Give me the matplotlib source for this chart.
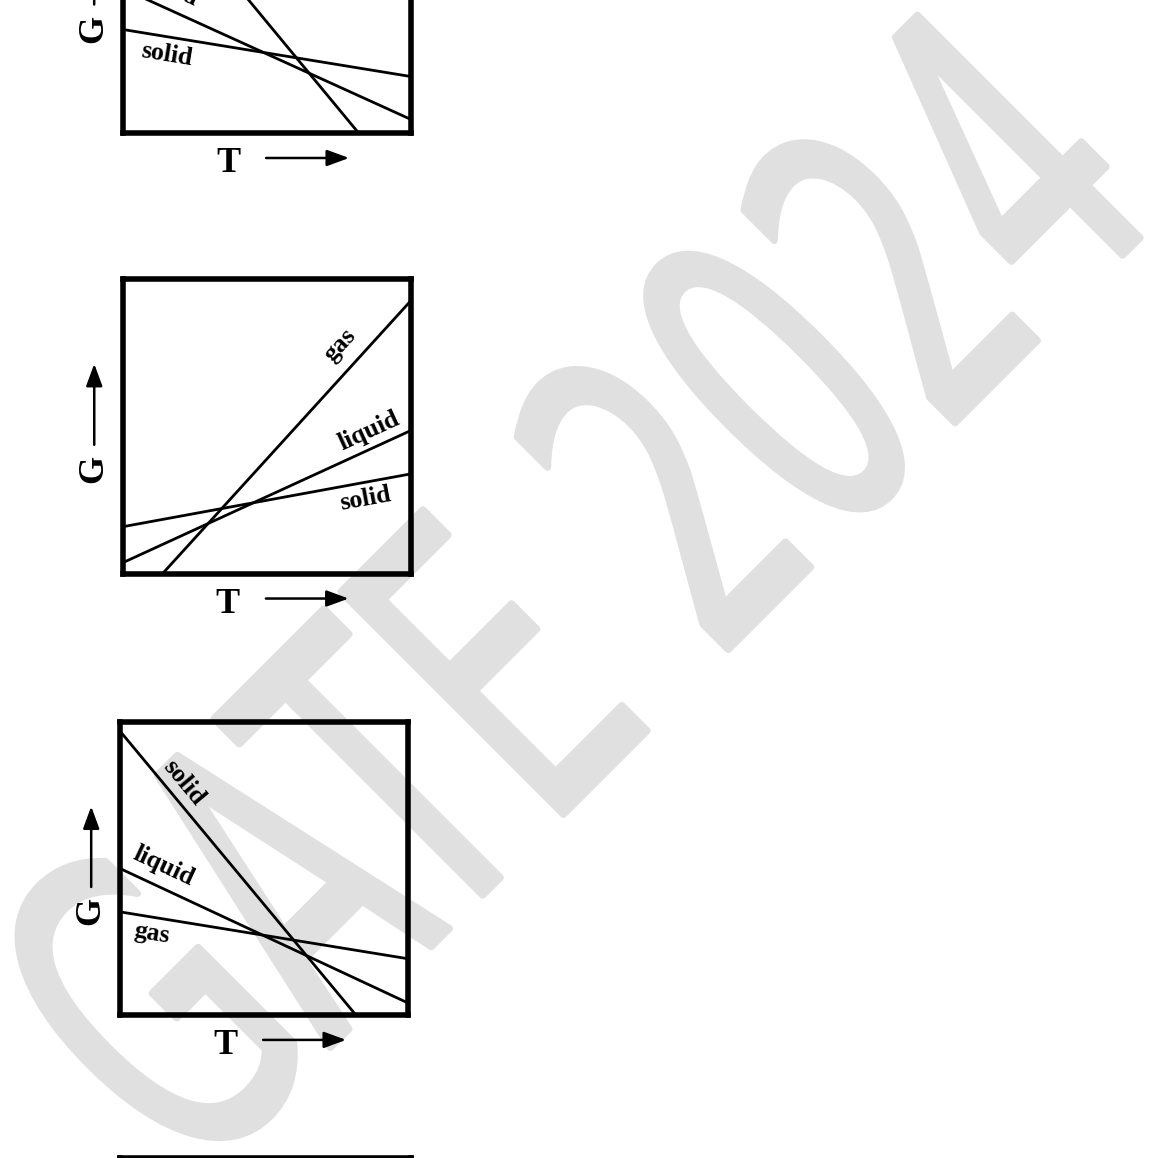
import numpy as np
import matplotlib
matplotlib.use("Agg")
import matplotlib.pyplot as plt
from matplotlib.textpath import TextPath
from matplotlib.font_manager import FontProperties
from matplotlib.patches import PathPatch
from matplotlib.transforms import Affine2D

W_PX, H_PX = 1157, 1158
DPI = 100

# ── line end points (T, G), normalised to the box ──
# panel 1 (cut at the top of the page)
p1_gas_T = [0.0, 0.818]
p1_gas_G = [0.969, 0.0]
p1_liq_T = [0.0, 1.0]
p1_liq_G = [0.491, 0.046]
p1_sol_T = [0.0, 1.0]
p1_sol_G = [0.352, 0.192]

# panel 2
p2_gas_T = [0.138, 1.0]
p2_gas_G = [0.0, 0.925]
p2_liq_T = [0.0, 1.0]
p2_liq_G = [0.037, 0.485]
p2_sol_T = [0.0, 1.0]
p2_sol_G = [0.159, 0.338]

# panel 3
p3_sol_T = [0.0, 0.819]
p3_sol_G = [0.969, 0.0]
p3_liq_T = [0.0, 1.0]
p3_liq_G = [0.500, 0.041]
p3_gas_T = [0.0, 1.0]
p3_gas_G = [0.352, 0.192]

# label text, position (T, G) and which line it follows
p1_labels = [("solid", 0.153, 0.265, 2), ("liquid", 0.155, 0.497, 1)]
p2_labels = [("gas", 0.755, 0.776, 0), ("liquid", 0.855, 0.483, 1),
             ("solid", 0.842, 0.252, 2)]
p3_labels = [("solid", 0.220, 0.793, 0), ("liquid", 0.150, 0.509, 1),
             ("gas", 0.112, 0.279, 2)]

WATERMARK = "GATE 2024"

SERIF = "Liberation Serif"


def px_rect(left, right, top, bottom):
    """pixel box (y down) -> figure fraction rect"""
    return [left / W_PX, 1 - bottom / H_PX, (right - left) / W_PX, (bottom - top) / H_PX]


def draw_panel(fig, rect, lines, labels, axis_names=True):
    ax = fig.add_axes(rect, zorder=2)
    ax.set_facecolor("none")
    ax.set_xlim(0, 1)
    ax.set_ylim(0, 1)
    ax.set_xticks([])
    ax.set_yticks([])
    for sp in ax.spines.values():
        sp.set_linewidth(4.0)
        sp.set_color("black")

    for t, g in lines:
        ax.plot(t, g, color="black", lw=2.0, solid_capstyle="butt")

    for text, t, g, idx in labels:
        lt, lg = lines[idx]
        p0 = ax.transData.transform((lt[0], lg[0]))
        p1 = ax.transData.transform((lt[1], lg[1]))
        ang = np.degrees(np.arctan2(p1[1] - p0[1], p1[0] - p0[0]))
        ax.text(t, g, text, rotation=ang, rotation_mode="anchor",
                ha="center", va="center", fontsize=18.5, fontweight="bold",
                family=SERIF)

    if not axis_names:
        return ax
    # axis names with arrows
    ax.text(-0.1, 0.355, "G", transform=ax.transAxes, rotation=90,
            ha="center", va="center", fontsize=26, fontweight="bold", family=SERIF)
    ax.text(0.365, -0.105, "T", transform=ax.transAxes,
            ha="center", va="center", fontsize=26, fontweight="bold", family=SERIF)
    arrow = dict(arrowstyle="-|>,head_length=0.9,head_width=0.33", lw=1.8,
                 color="black", shrinkA=0, shrinkB=0, mutation_scale=15)
    ax.annotate("", xy=(-0.1, 0.712), xytext=(-0.1, 0.437),
                xycoords="axes fraction", arrowprops=arrow, annotation_clip=False)
    ax.annotate("", xy=(0.785, -0.085), xytext=(0.497, -0.085),
                xycoords="axes fraction", arrowprops=arrow, annotation_clip=False)
    return ax


fig = plt.figure(figsize=(W_PX / DPI, H_PX / DPI), dpi=DPI)
fig.patch.set_facecolor("white")

# ── watermark behind everything ──
bg = fig.add_axes([0, 0, 1, 1], zorder=0)
bg.set_xlim(0, W_PX)
bg.set_ylim(H_PX, 0)
bg.axis("off")
tp = TextPath((0, 0), WATERMARK, size=1, prop=FontProperties(family="DejaVu Sans"))
tr = Affine2D().scale(252, 432).rotate_deg(45).scale(1, -1).translate(191, 1187)
bg.add_patch(PathPatch(tr.transform_path(tp), facecolor="#e0e0e0", edgecolor="#e0e0e0",
                       lw=5, joinstyle="round", capstyle="round"))

# ── the option panels ──
draw_panel(fig, px_rect(123, 411, -161, 133),
           [(p1_gas_T, p1_gas_G), (p1_liq_T, p1_liq_G), (p1_sol_T, p1_sol_G)],
           p1_labels)
draw_panel(fig, px_rect(123, 410.5, 279, 573.5),
           [(p2_gas_T, p2_gas_G), (p2_liq_T, p2_liq_G), (p2_sol_T, p2_sol_G)],
           p2_labels)
draw_panel(fig, px_rect(120, 408, 722, 1015),
           [(p3_sol_T, p3_sol_G), (p3_liq_T, p3_liq_G), (p3_gas_T, p3_gas_G)],
           p3_labels)
# fourth panel, only its top edge is on the page
draw_panel(fig, px_rect(120, 411, 1157.5, 1451.5), [], [], axis_names=False)

fig.savefig("out.png", dpi=DPI)
